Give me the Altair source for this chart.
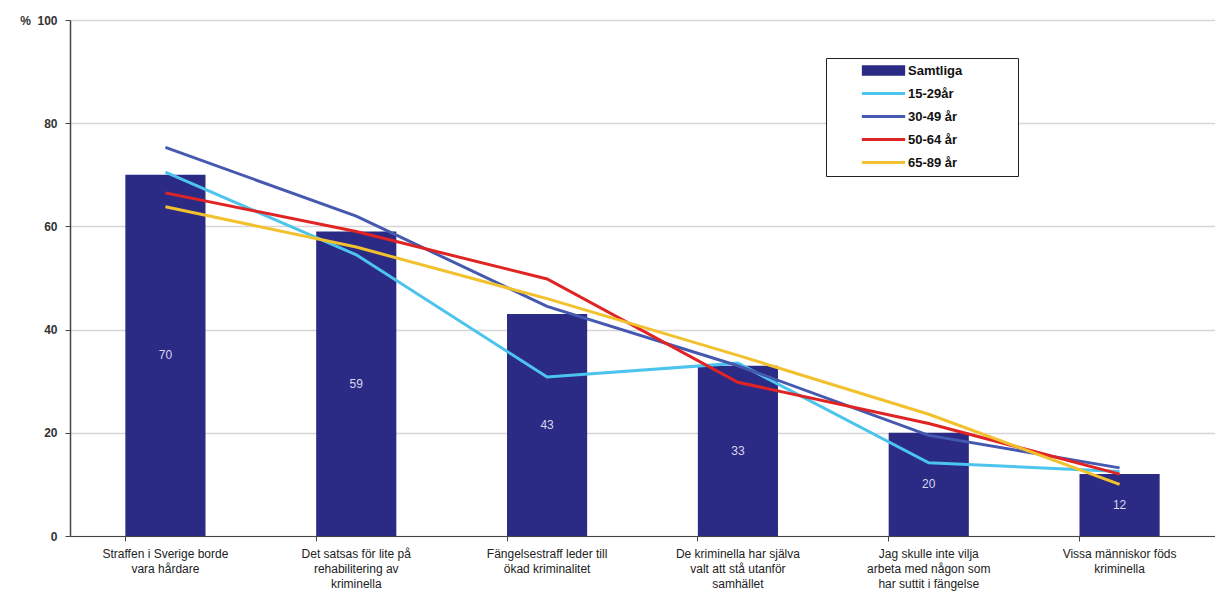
import altair as alt
import pandas as pd

categories = [
    "Straffen i Sverige borde|vara hårdare",
    "Det satsas för lite på|rehabilitering av|kriminella",
    "Fängelsestraff leder till|ökad kriminalitet",
    "De kriminella har själva|valt att stå utanför|samhället",
    "Jag skulle inte vilja|arbeta med någon som|har suttit i fängelse",
    "Vissa människor föds|kriminella",
]
samtliga = [70, 59, 43, 33, 20, 12]
age_15_29 = [70.5, 54.5, 30.8, 33.5, 14.2, 12.5]
age_30_49 = [75.3, 62, 44.5, 33, 19.5, 13.2]
age_50_64 = [66.5, 59, 49.8, 29.8, 21.8, 12]
age_65_89 = [63.8, 56, 46, 35, 23.6, 10]

series_names = ["Samtliga", "15-29år", "30-49 år", "50-64 år", "65-89 år"]
series_colors = ["#2b2a85", "#4cc4ee", "#4659b0", "#e02424", "#f2c12e"]

bars_df = pd.DataFrame({"cat": categories, "value": samtliga, "series": series_names[0]})
line_rows = []
for name, vals in zip(series_names[1:], [age_15_29, age_30_49, age_50_64, age_65_89]):
    for c, v in zip(categories, vals):
        line_rows.append({"cat": c, "value": v, "series": name})
lines_df = pd.DataFrame(line_rows)

FONT = "Liberation Sans"
LEG_X, LEG_Y = 756, 38
SYM_OFFSET = 45
TOP_LABEL = "%\u00a0\u00a0100"

x_enc = alt.X(
    "cat:N",
    sort=categories,
    scale=alt.Scale(paddingInner=0.58, paddingOuter=0.29),
    axis=alt.Axis(
        title=None,
        labelAngle=0,
        labelExpr="split(datum.label, '|')",
        labelFont=FONT,
        labelFontSize=12,
        labelColor="#222222",
        labelLineHeight=15,
        labelPadding=7,
        labelLimit=300,
        bandPosition=0,
        tickSize=5,
        tickColor="#444444",
        domainColor="#444444",
        grid=False,
    ),
)
y_enc = alt.Y(
    "value:Q",
    scale=alt.Scale(domain=[0, 100]),
    axis=alt.Axis(
        title=None,
        values=[0, 20, 40, 60, 80, 100],
        labelExpr="datum.value == 100 ? '" + TOP_LABEL + "' : datum.label",
        labelFont=FONT,
        labelFontSize=12,
        labelFontWeight="bold",
        labelColor="#333333",
        labelPadding=8,
        tickSize=5,
        tickColor="#444444",
        domainColor="#444444",
        domainWidth=1.5,
        gridColor="#d6d6d6",
        gridWidth=1.5,
    ),
)

# legend for the bar series (only its filled rectangle is drawn; label comes from the line legend)
bar_legend = alt.Legend(
    title=None,
    orient="none",
    legendX=LEG_X,
    legendY=LEG_Y,
    padding=6,
    symbolType="M-5,-1.2H5V1.2H-5Z",
    symbolSize=75,
    symbolOffset=SYM_OFFSET,
    symbolStrokeWidth=0,
    labelFont=FONT,
    labelFontSize=13,
    labelFontWeight="bold",
    labelExpr="''",
    zindex=3,
)

bars = (
    alt.Chart(bars_df)
    .mark_bar()
    .encode(
        x=x_enc,
        y=y_enc,
        color=alt.Color(
            "series:N",
            scale=alt.Scale(domain=series_names[:1], range=series_colors[:1]),
            legend=bar_legend,
        ),
    )
)

bar_text = (
    alt.Chart(bars_df)
    .transform_calculate(mid="datum.value / 2")
    .mark_text(color="#d8d8ee", font=FONT, fontSize=12, baseline="middle")
    .encode(x=alt.X("cat:N", sort=categories), y=alt.Y("mid:Q"), text=alt.Text("value:Q"))
)

line_legend = alt.Legend(
    title=".",
    titleOrient="right",
    titleColor="#ffffff",
    titleFontSize=13,
    titlePadding=46,
    orient="none",
    legendX=LEG_X,
    legendY=LEG_Y,
    strokeColor="#222222",
    fillColor="#ffffff",
    padding=6,
    symbolType="M-5,0H5",
    symbolSize=75,
    symbolOffset=SYM_OFFSET,
    symbolStrokeWidth=3,
    labelFont=FONT,
    labelFontSize=13,
    labelFontWeight="bold",
    labelColor="#111111",
    labelOffset=18,
    rowPadding=9,
    zindex=1,
)

lines = (
    alt.Chart(lines_df)
    .mark_line(strokeWidth=3)
    .encode(
        x=alt.X("cat:N", sort=categories),
        y=alt.Y("value:Q"),
        stroke=alt.Stroke(
            "series:N",
            scale=alt.Scale(domain=series_names, range=["#ffffff"] + series_colors[1:]),
            legend=line_legend,
        ),
        detail="series:N",
    )
)

chart = (
    alt.layer(bars, lines, bar_text)
    .resolve_legend(color="independent", stroke="independent")
    .properties(
        width=1145,
        height=516,
        autosize=alt.AutoSizeParams(type="none"),
        padding={"left": 62, "top": 12, "right": 0, "bottom": 60},
        background="#ffffff",
    )
    .configure_view(stroke=None)
)

chart.save("out.html", embed_options={"renderer": "svg", "actions": False})
